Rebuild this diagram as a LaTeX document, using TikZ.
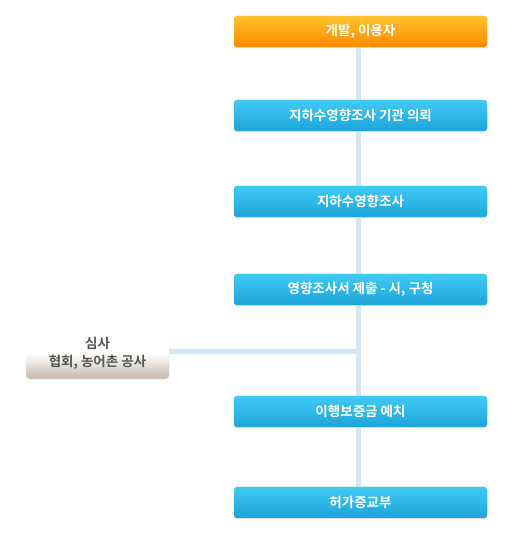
\documentclass[tikz,border=0pt]{standalone}
\usepackage{fontspec}
\newfontfamily\kr{Noto Sans CJK KR}[BoldFont={* Bold}]
\usetikzlibrary{shadows}
\definecolor{linec}{HTML}{D6E6F3}
\definecolor{orT}{HTML}{FFC22C}
\definecolor{orB}{HTML}{FF8A02}
\definecolor{blT}{HTML}{40CAF2}
\definecolor{blB}{HTML}{1EA4DB}
\definecolor{grT}{HTML}{FFFFFF}
\definecolor{grB}{HTML}{C4B8AE}
\definecolor{grtext}{HTML}{555555}
\tikzset{
  x=1pt,y=1pt,
  stepbox/.style={rounded corners=3pt, minimum width=253pt, minimum height=31pt,
    inner sep=0pt, font=\kr\bfseries\fontsize{13.5}{15}\selectfont, text=white,
    drop shadow={shadow xshift=0pt, shadow yshift=-1pt, opacity=0.15}},
  orbox/.style={stepbox, top color=orT, bottom color=orB},
  blbox/.style={stepbox, top color=blT, bottom color=blB},
  gbox/.style={rounded corners=4pt, minimum width=143pt, minimum height=50pt,
    inner sep=0pt, top color=grT, bottom color=grB, middle color=grT,
    font=\kr\bfseries\fontsize{13.5}{20}\selectfont, text=grtext, align=center,
    drop shadow={shadow xshift=0pt, shadow yshift=-1pt, opacity=0.15}},
  link/.style={draw=linec, line width=5pt}
}
\begin{document}
\begin{tikzpicture}
\useasboundingbox (0,0) rectangle (516,555);
\coordinate (spine) at (358,0);
\path (360.5,555-31.5) node[orbox] (b1) {\phantom{x}};
\path (360.5,555-115.5) node[blbox] (b2) {\phantom{x}};
\path (360.5,555-201.5) node[blbox] (b3) {\phantom{x}};
\path (360.5,555-289.5) node[blbox] (b4) {\phantom{x}};
\path (360.5,555-411.5) node[blbox] (b5) {\phantom{x}};
\path (360.5,555-502.5) node[blbox] (b6) {\phantom{x}};
\path (97.5,555-353.5) node[gbox] (g) {\phantom{x}};
\coordinate (j) at (358,555-351.5);
\draw[link] (b1.south -| spine) -- (b6.north -| spine);
\draw[link] (g.east |- j) -- (j);
\node[orbox] at (b1) {개발, 이용자};
\node[blbox] at (b2) {지하수영향조사 기관 의뢰};
\node[blbox] at (b3) {지하수영향조사};
\node[blbox] at (b4) {영향조사서 제출 - 시, 구청};
\node[blbox] at (b5) {이행보증금 예치};
\node[blbox] at (b6) {허가증교부};
\node[gbox] at (g) {심사\\[-2pt]협회, 농어촌 공사};
\end{tikzpicture}
\end{document}
